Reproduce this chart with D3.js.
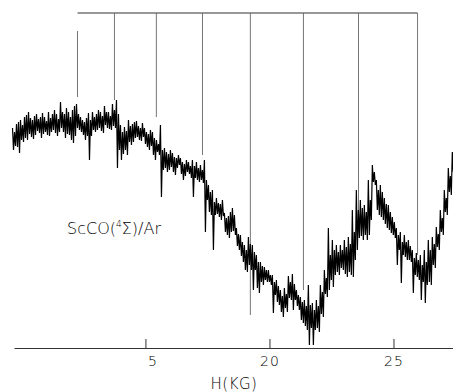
<!DOCTYPE html>
<html>
<head>
<meta charset="utf-8">
<script src="https://cdn.jsdelivr.net/npm/d3@7"></script>
<style>
  body { margin: 0; background: #fff; }
  svg text { font-family: 'DejaVu Sans', sans-serif; font-weight: 200; fill: #000; }
</style>
</head>
<body>
<div id="chart"></div>
<script>
// field sweep (kG) of the recorder trace
const fieldStart = 9.64
const fieldStep = 0.0403
// EPR trace (arbitrary units), one value per sweep step
const signal = [
  222,200,218,204, 226,203,228,197, 230,210,225,208, 233,212,235,210, 238,216,232,213,
  230,211,234,215, 236,219,231,217, 233,212,237,216, 233,218,229,215, 238,214,232,218,
  236,220,240,217, 236,214,231,218, 248,222,238,218, 236,212,242,216, 238,215,233,210,
  240,207,244,214, 246,222,236,220, 233,218,230,215, 228,210,232,214, 237,190,230,214,
  238,220,233,218, 236,220,240,222, 238,219,234,217, 244,225,238,222, 238,221,234,220,
  246,224,240,222, 250,182,236,200, 225,190,218,196, 223,200,219,195, 230,208,224,205,
  226,208,228,212, 229,213,224,210, 222,209,227,213, 222,206,218,203, 216,200,220,204,
  218,195,212,190, 210,198,206,195, 225,153,200,180, 202,182,198,178, 196,180,200,183,
  197,178,193,175, 192,182,195,185, 192,176,188,170, 186,174,190,178, 188,176,184,172,
  190,153,184,172, 188,170,182,168, 185,170,180,167, 190,118,170,150, 165,138,158,135,
  160,100,148,135, 152,136,147,133, 146,130,150,134, 137,118,132,115, 134,112,138,118,
  142,119,135,115, 122,104,116,100, 115,94,108,88, 105,80,100,78, 113,85,106,80,
  105,60,98,80, 95,62,88,57, 88,68,84,65, 83,70,80,68, 80,68,75,65,
  75,37,68,55, 70,48,64,45, 60,38,54,33, 62,42,56,38, 74,52,68,50,
  76,40,66,50, 60,44,55,40, 53,30,48,27, 50,24,44,20, 65,5,45,22,
  47,5,40,20, 50,22,44,18, 65,36,58,33, 80,56,72,53, 122,60,95,70,
  110,63,100,75, 105,78,98,75, 105,82,100,80, 110,76,103,73, 113,78,106,75,
  140,73,118,90, 160,100,140,112, 150,114,142,110, 145,115,138,110, 170,115,150,130,
  185,168,178,165, 170,140,160,135, 165,133,158,130, 152,126,146,122, 145,120,138,117,
  133,115,128,112, 122,85,115,100, 118,67,108,95, 115,93,108,90, 110,90,104,88,
  100,57,92,75, 97,73,90,70, 95,50,85,68, 100,47,88,65, 110,68,100,65,
  113,85,106,82, 123,103,116,100, 140,118,132,115, 160,138,152,135, 182,158,174,155,
  198,178,190,175
]

// stick diagram of the predicted line positions
const markerFields = [12.26, 13.75, 15.44, 17.30, 19.23, 21.37, 23.59, 25.97]
const markerTops = [319, 337, 337, 337, 337, 337, 337, 337]
const markerEnds = [253, 250, 233, 195, 35, 60, 135, 95]
const bracketLevel = 337

const tickValues = [15, 20, 25]
const tickLabels = ['5', '20', '25']

const width = 453
const height = 392

const svg = d3.select('#chart').append('svg')
  .attr('width', width)
  .attr('height', height)

const x = d3.scaleLinear()
  .domain([9.7, 27.4])
  .range([14, 453])

const y = d3.scaleLinear()
  .domain([0, 340])
  .range([350, 10])

// axis
const axis = d3.axisBottom(x)
  .tickValues(tickValues)
  .tickFormat((d, i) => tickLabels[i])
  .tickSizeInner(-9)
  .tickSizeOuter(0)
  .tickPadding(8)

const gAxis = svg.append('g')
  .attr('transform', 'translate(0,348)')
  .call(axis)

gAxis.select('.domain').attr('stroke', '#333').attr('stroke-width', 1.2)
gAxis.selectAll('.tick line').attr('stroke', '#333')
gAxis.selectAll('.tick text')
  .attr('font-size', 14)
  .attr('font-family', "'DejaVu Sans', sans-serif")
  .attr('font-weight', 200)
  .attr('letter-spacing', 1)
  .attr('fill', '#000')
  .attr('dx', (d, i) => i === 0 ? 7 : 0)

svg.append('text')
  .attr('x', 234)
  .attr('y', 389)
  .attr('text-anchor', 'middle')
  .attr('font-size', 15)
  .attr('letter-spacing', 0.5)
  .text('H(KG)')

// stick markers
svg.append('line')
  .attr('x1', x(markerFields[0]))
  .attr('x2', x(markerFields[markerFields.length - 1]))
  .attr('y1', y(bracketLevel))
  .attr('y2', y(bracketLevel))
  .attr('stroke', '#333')
  .attr('stroke-width', 1.2)

svg.selectAll('line.marker')
  .data(markerFields)
  .enter()
  .append('line')
  .attr('class', 'marker')
  .attr('x1', d => x(d))
  .attr('x2', d => x(d))
  .attr('y1', (d, i) => y(markerTops[i]))
  .attr('y2', (d, i) => y(markerEnds[i]))
  .attr('stroke', '#666')
  .attr('stroke-width', 0.9)

// trace
const line = d3.line()
  .x((d, i) => x(fieldStart + i * fieldStep))
  .y(d => y(d))

svg.append('path')
  .datum(signal)
  .attr('d', line)
  .attr('fill', 'none')
  .attr('stroke', '#000')
  .attr('stroke-width', 1.2)

// label
const label = svg.append('text')
  .attr('x', 67)
  .attr('y', 234)
  .attr('font-size', 16)
label.append('tspan').text('ScCO(')
label.append('tspan').attr('font-size', 9).attr('dy', -7).text('4')
label.append('tspan').attr('dy', 7).text('Σ)/Ar')
</script>
</body>
</html>
